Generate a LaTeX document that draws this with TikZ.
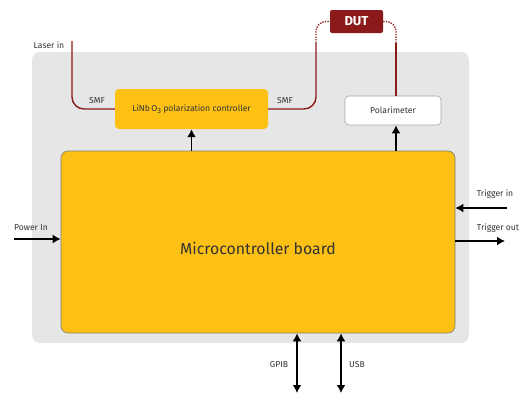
\documentclass[tikz,border=0pt]{standalone}
\usepackage{fontspec}
\setmainfont{Fira Sans}
\usetikzlibrary{arrows.meta,calc}
\definecolor{bggray}{HTML}{E6E6E6}
\definecolor{myyellow}{HTML}{FDC014}
\definecolor{fiberred}{HTML}{8B1A1A}
\definecolor{edgegray}{HTML}{7F7F70}
\definecolor{txtgray}{HTML}{333333}
\tikzset{
  lbl/.style={font=\fontsize{8.6}{10}\selectfont, text=txtgray, inner sep=0pt},
  fiber/.style={draw=fiberred, line width=1.4pt},
  dotfiber/.style={draw=fiberred, line width=1.4pt, dash pattern=on 1.3pt off 1.3pt},
  sig/.style={draw=black, line width=1.8pt, -{Latex[length=8pt,width=9pt]}},
  bisig/.style={draw=black, line width=1.8pt, {Latex[length=8pt,width=9pt]}-{Latex[length=8pt,width=9pt]}}
}
\begin{document}
\begin{tikzpicture}[x=1pt,y=-1pt]
\useasboundingbox (0,0) rectangle (524,394);
% background
\fill[bggray, rounded corners=8pt] (32,52) rectangle (469,343);
% microcontroller
\node[draw=edgegray, line width=0.6pt, fill=myyellow, rounded corners=7pt, minimum width=394pt, minimum height=182pt, inner sep=0pt] (mcu) at (258,242) {};
\node[font=\fontsize{15.8}{18}\selectfont, text=txtgray, inner sep=0pt] (mcut) at (258,248) {Microcontroller board};
% LiNbO3
\node[fill=myyellow, rounded corners=4pt, minimum width=153pt, minimum height=40pt, inner sep=0pt, font=\fontsize{8.6}{10}\selectfont, text=txtgray] (lin) at (191.5,109) {LiNb\,O\raisebox{-2pt}{\fontsize{7.5}{9}\selectfont 3} polarization controller};
% Polarimeter
\node[draw=gray!70, line width=0.6pt, fill=white, rounded corners=4pt, minimum width=96pt, minimum height=29pt, inner sep=0pt, font=\fontsize{8.6}{10}\selectfont, text=txtgray] (pol) at (393,110.5) {Polarimeter};
% DUT
\node[fill=fiberred, rounded corners=2pt, minimum width=53pt, minimum height=23pt, inner sep=0pt, font=\bfseries\fontsize{13}{15}\selectfont, text=white] (dut) at (356.5,21.5) {DUT};
% fibers
\coordinate (laser) at (72,41);
\draw[fiber, rounded corners=12pt] (laser) |- (lin.west);
\coordinate (c1) at (316,43);
\draw[fiber, rounded corners=12pt] (lin.east) -| (c1);
\draw[dotfiber, rounded corners=10pt] (c1) |- (dut.west);
\coordinate (c2) at (396,43);
\draw[dotfiber, rounded corners=10pt] (dut.east) -| (c2);
\draw[fiber] (c2) -- (pol.north -| c2);
% labels
\node[lbl] (laserl) at (49,45) {Laser in};
\node[lbl] (smf1) at (97,101) {SMF};
\node[lbl] (smf2) at (285,101) {SMF};
% control arrows
\draw[sig] (mcu.north -| lin.south) -- (lin.south);
\draw[sig] (mcu.north -| c2) -- (pol.south -| c2);
% power in
\coordinate (pin) at (14,239);
\draw[sig] (pin) -- (pin -| mcu.west);
\node[lbl] (pinl) at (31,228) {Power In};
% triggers
\coordinate (tin) at (507,208);
\draw[sig] (tin) -- (tin -| mcu.east);
\node[lbl] (tinl) at (495,194) {Trigger in};
\coordinate (tout) at (505,241);
\draw[sig] (tout -| mcu.east) -- (tout);
\node[lbl] (toutl) at (498,228) {Trigger out};
% GPIB / USB
\coordinate (gpib) at (297,393);
\draw[bisig] (gpib |- mcu.south) -- (gpib);
\node[lbl] (gpibl) at (279,365) {GPIB};
\coordinate (usb) at (341,393);
\draw[bisig] (usb |- mcu.south) -- (usb);
\node[lbl] (usbl) at (357,365) {USB};
\end{tikzpicture}
\end{document}
